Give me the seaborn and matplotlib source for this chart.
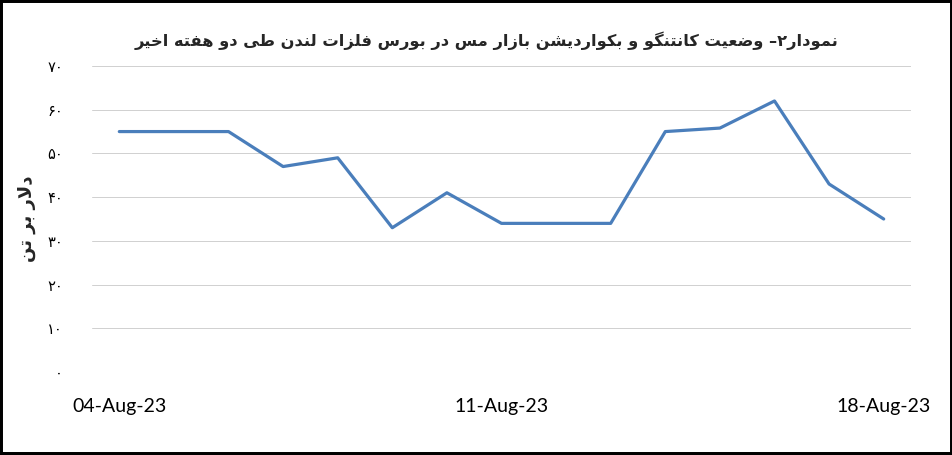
import matplotlib
matplotlib.use('Agg')
import matplotlib.pyplot as plt
import matplotlib.dates as mdates
from matplotlib.patches import Rectangle
import seaborn as sns
import pandas as pd

# data (USD per tonne, contango/backwardation spread)
dates = ['2023-08-04', '2023-08-06', '2023-08-07', '2023-08-08', '2023-08-09',
         '2023-08-10', '2023-08-11', '2023-08-13', '2023-08-14', '2023-08-15',
         '2023-08-16', '2023-08-17', '2023-08-18']
values = [55, 55, 47, 49, 33, 41, 34, 34, 55, 55.8, 62, 43, 35]
tick_dates = ['2023-08-04', '2023-08-11', '2023-08-18']
y_ticks = [0, 10, 20, 30, 40, 50, 60, 70]

title = 'نمودار۲– وضعیت کانتنگو و بکواردیشن بازار مس در بورس فلزات لندن طی دو هفته اخیر'
y_label = 'دلار بر تن'

# matplotlib has no arabic shaping, so do a small one by hand
FORMS = {  # isolated, final, initial, medial
    'ا': ('\uFE8D', '\uFE8E', None, None),
    'د': ('\uFEA9', '\uFEAA', None, None),
    'ر': ('\uFEAD', '\uFEAE', None, None),
    'ز': ('\uFEAF', '\uFEB0', None, None),
    'و': ('\uFEED', '\uFEEE', None, None),
    'ب': ('\uFE8F', '\uFE90', '\uFE91', '\uFE92'),
    'ت': ('\uFE95', '\uFE96', '\uFE97', '\uFE98'),
    'خ': ('\uFEA5', '\uFEA6', '\uFEA7', '\uFEA8'),
    'س': ('\uFEB1', '\uFEB2', '\uFEB3', '\uFEB4'),
    'ش': ('\uFEB5', '\uFEB6', '\uFEB7', '\uFEB8'),
    'ض': ('\uFEBD', '\uFEBE', '\uFEBF', '\uFEC0'),
    'ط': ('\uFEC1', '\uFEC2', '\uFEC3', '\uFEC4'),
    'ع': ('\uFEC9', '\uFECA', '\uFECB', '\uFECC'),
    'ف': ('\uFED1', '\uFED2', '\uFED3', '\uFED4'),
    'ل': ('\uFEDD', '\uFEDE', '\uFEDF', '\uFEE0'),
    'م': ('\uFEE1', '\uFEE2', '\uFEE3', '\uFEE4'),
    'ن': ('\uFEE5', '\uFEE6', '\uFEE7', '\uFEE8'),
    'ه': ('\uFEE9', '\uFEEA', '\uFEEB', '\uFEEC'),
    'ی': ('\uFBFC', '\uFBFD', '\uFBFE', '\uFBFF'),
    'ک': ('\uFB8E', '\uFB8F', '\uFB90', '\uFB91'),
    'گ': ('\uFB92', '\uFB93', '\uFB94', '\uFB95'),
}
LAM_ALEF = ('\uFEFB', '\uFEFC')


def dual(c):
    return c in FORMS and FORMS[c][2] is not None


def shape(text):
    out = []
    i = 0
    n = len(text)
    while i < n:
        c = text[i]
        prev = text[i - 1] if i > 0 else ''
        joins_prev = dual(prev) and c in FORMS
        if c == 'ل' and i + 1 < n and text[i + 1] == 'ا':
            out.append(LAM_ALEF[1] if joins_prev else LAM_ALEF[0])
            i += 2
            continue
        if c not in FORMS:
            out.append(c)
            i += 1
            continue
        nxt = text[i + 1] if i + 1 < n else ''
        joins_next = dual(c) and nxt in FORMS
        iso, fin, ini, med = FORMS[c]
        if joins_prev and joins_next:
            out.append(med)
        elif joins_prev:
            out.append(fin)
        elif joins_next:
            out.append(ini)
        else:
            out.append(iso)
        i += 1
    return ''.join(out)[::-1]


def fa_digits(v):
    return str(v).translate(str.maketrans('0123456789', '۰۱۲۳۴۵۶۷۸۹'))


df = pd.DataFrame({'date': pd.to_datetime(dates), 'value': values})

sns.set_style('white')
plt.rcParams['font.family'] = ['DejaVu Sans']

fig = plt.figure(figsize=(9.53, 4.55), dpi=100)
ax = fig.add_axes([92 / 953, 83 / 455, 819 / 953, 306 / 455])

sns.lineplot(data=df, x='date', y='value', ax=ax, color='#4a7ebb', linewidth=2.3)

ax.set_ylim(0, 70)
ax.set_yticks(y_ticks)
ax.set_yticklabels([fa_digits(t) for t in y_ticks], fontsize=10.5)
ax.set_xlim(pd.Timestamp('2023-08-03 12:00'), pd.Timestamp('2023-08-18 12:00'))
ax.set_xticks(pd.to_datetime(tick_dates))
ax.xaxis.set_major_formatter(mdates.DateFormatter('%d-%b-%y'))
for lab in ax.get_xticklabels():
    lab.set_fontfamily(['Lato', 'DejaVu Sans'])
    lab.set_fontsize(14)
ax.tick_params(axis='x', length=0, pad=19, colors='black')
ax.tick_params(axis='y', length=0, pad=21, colors='black')

ax.grid(axis='y', color='#d0d0d0', linewidth=0.7)
ax.grid(axis='x', visible=False)
for s in ax.spines.values():
    s.set_visible(False)

ax.set_xlabel('')
ax.set_ylabel(shape(y_label), fontsize=13, fontweight='bold', labelpad=8)

fig.text(0.511, 0.91, shape(title), ha='center', va='center',
         fontsize=11.7, fontweight='bold')

fig.patches.append(Rectangle((0, 0), 1, 1, transform=fig.transFigure,
                             fill=False, edgecolor='black', linewidth=4.3))

fig.savefig('out.png', dpi=100)
